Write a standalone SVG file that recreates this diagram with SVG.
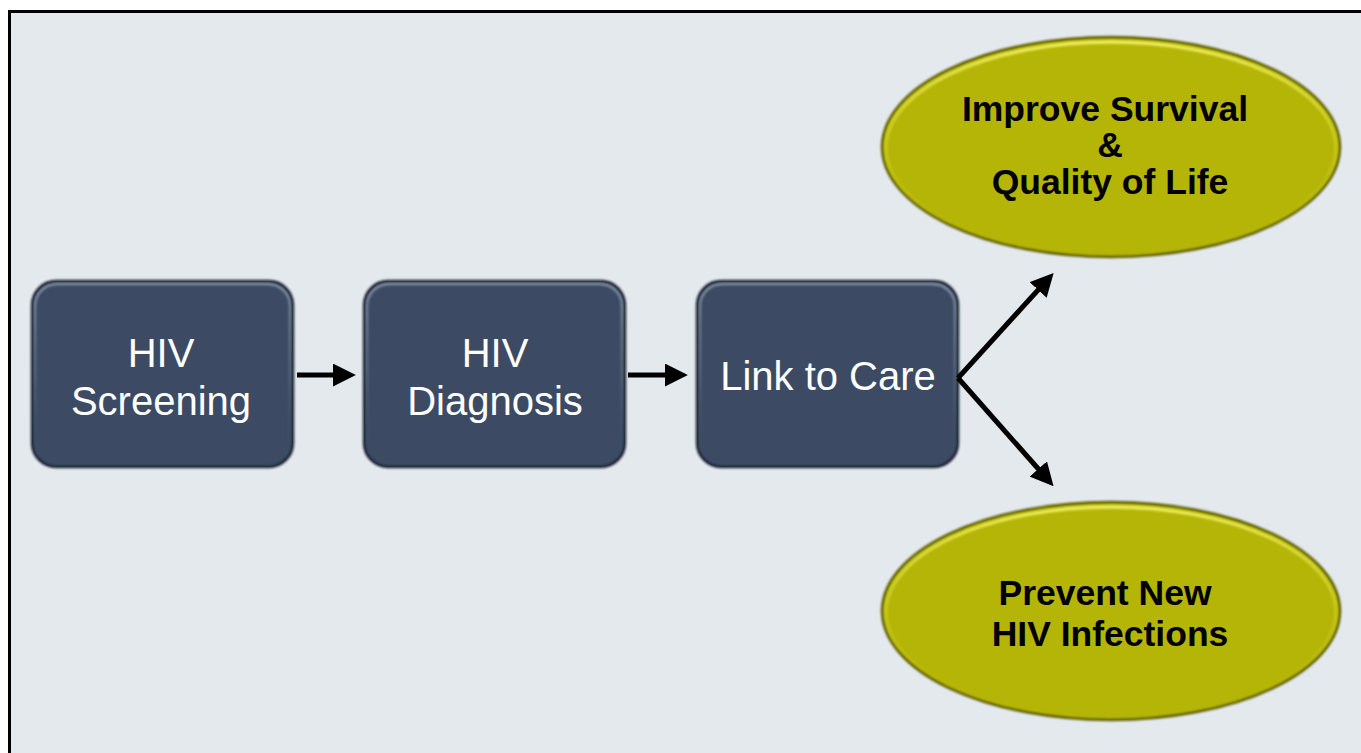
<svg xmlns="http://www.w3.org/2000/svg" width="1361" height="753" viewBox="0 0 1361 753">
  <defs>
    <style>
      .box { fill: #3c4b63; }
      .box-edge { fill: none; stroke: #1c2433; stroke-width: 2.5; }
      .box-hi { fill: none; stroke: url(#boxRim); stroke-width: 2.5; }
      .goal { fill: #b5b508; }
      .goal-edge { fill: none; stroke: #5f5f00; stroke-width: 2.5; }
      .goal-hi { fill: none; stroke: url(#goalRim); stroke-width: 3.5; }
      .box-text { font-family: "Liberation Sans", Arial, sans-serif; font-size: 40px; fill: #ffffff; text-anchor: middle; }
      .goal-text { font-family: "Liberation Sans", Arial, sans-serif; font-size: 35.5px; font-weight: bold; fill: #000000; text-anchor: middle; }
      .link { stroke: #000000; stroke-width: 5; fill: none; marker-end: url(#head); }
    </style>
    <linearGradient id="boxRim" x1="0" y1="0" x2="0" y2="1">
      <stop offset="0" stop-color="#8a96aa" stop-opacity="0.9"/>
      <stop offset="0.5" stop-color="#6f7c92" stop-opacity="0.5"/>
      <stop offset="1" stop-color="#3c4b63" stop-opacity="0"/>
    </linearGradient>
    <linearGradient id="goalRim" x1="0" y1="0" x2="0" y2="1">
      <stop offset="0" stop-color="#f0f060" stop-opacity="0.95"/>
      <stop offset="0.5" stop-color="#d8d830" stop-opacity="0.5"/>
      <stop offset="1" stop-color="#b5b508" stop-opacity="0"/>
    </linearGradient>
    <marker id="head" viewBox="0 0 10 10" refX="7" refY="5" markerWidth="4.6" markerHeight="4.6" orient="auto" markerUnits="strokeWidth">
      <path d="M0,0 L10,5 L0,10 z" fill="#000000"/>
    </marker>
    <filter id="soft" x="-10%" y="-10%" width="120%" height="120%">
      <feGaussianBlur stdDeviation="1.2"/>
    </filter>
  </defs>

  <!-- page frame -->
  <rect x="0" y="0" width="1361" height="753" fill="#ffffff"/>
  <rect x="9.5" y="11.5" width="1360" height="750" fill="#e4e9ee" stroke="#000000" stroke-width="3"/>

  <!-- process steps -->
  <g id="step-screening">
    <rect class="box" x="32" y="281" width="261" height="186" rx="24"/>
    <rect class="box-edge" x="32" y="281" width="261" height="186" rx="24" filter="url(#soft)"/>
    <rect class="box-hi" x="35" y="284" width="255" height="180" rx="22" filter="url(#soft)"/>
    <text class="box-text" x="161" y="367">HIV</text>
    <text class="box-text" x="161" y="415">Screening</text>
  </g>

  <g id="step-diagnosis">
    <rect class="box" x="364" y="281" width="261" height="186" rx="24"/>
    <rect class="box-edge" x="364" y="281" width="261" height="186" rx="24" filter="url(#soft)"/>
    <rect class="box-hi" x="367" y="284" width="255" height="180" rx="22" filter="url(#soft)"/>
    <text class="box-text" x="495" y="367">HIV</text>
    <text class="box-text" x="495" y="415">Diagnosis</text>
  </g>

  <g id="step-link">
    <rect class="box" x="697" y="281" width="261" height="186" rx="24"/>
    <rect class="box-edge" x="697" y="281" width="261" height="186" rx="24" filter="url(#soft)"/>
    <rect class="box-hi" x="700" y="284" width="255" height="180" rx="22" filter="url(#soft)"/>
    <text class="box-text" x="828" y="390">Link to Care</text>
  </g>

  <!-- outcomes -->
  <g id="goal-survival">
    <ellipse class="goal" cx="1111" cy="147" rx="229" ry="110"/>
    <ellipse class="goal-edge" cx="1111" cy="147" rx="229" ry="110" filter="url(#soft)"/>
    <ellipse class="goal-hi" cx="1111" cy="148" rx="225" ry="106" filter="url(#soft)"/>
    <text class="goal-text" x="1105" y="121">Improve Survival</text>
    <text class="goal-text" x="1110" y="157">&amp;</text>
    <text class="goal-text" x="1110" y="194">Quality of Life</text>
  </g>

  <g id="goal-prevention">
    <ellipse class="goal" cx="1111" cy="611" rx="229" ry="109"/>
    <ellipse class="goal-edge" cx="1111" cy="611" rx="229" ry="109" filter="url(#soft)"/>
    <ellipse class="goal-hi" cx="1111" cy="612" rx="225" ry="105" filter="url(#soft)"/>
    <text class="goal-text" x="1105" y="605">Prevent New</text>
    <text class="goal-text" x="1110" y="646">HIV Infections</text>
  </g>

  <!-- connectors -->
  <g id="connectors">
    <line class="link" x1="297" y1="375" x2="349" y2="375"/>
    <line class="link" x1="628" y1="375" x2="681" y2="375"/>
    <line class="link" x1="958" y1="378" x2="1049" y2="278"/>
    <line class="link" x1="958" y1="378" x2="1049" y2="481"/>
  </g>
</svg>
